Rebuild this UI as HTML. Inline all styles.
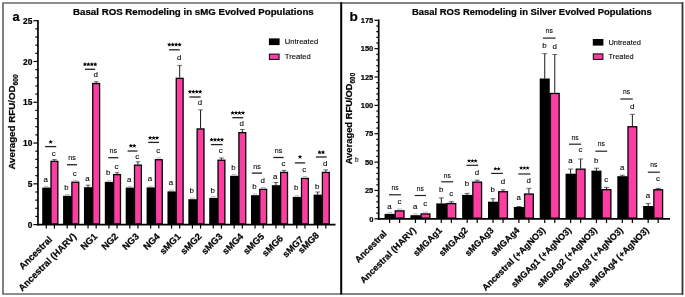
<!DOCTYPE html>
<html><head><meta charset="utf-8"><style>
html,body{margin:0;padding:0;background:#fff;}
body{width:685px;height:297px;overflow:hidden;}
svg{display:block;font-family:"Liberation Sans", sans-serif;will-change:transform;}
text[font-weight="bold"]{stroke:#000;stroke-width:0.22px;}
text[font-weight="normal"]{stroke:#000;stroke-width:0.1px;}
</style></head><body>
<svg width="685" height="297" viewBox="0 0 685 297">
<rect x="0" y="0" width="685" height="297" fill="#fff"/>
<line x1="43.98" y1="186.40" x2="48.57" y2="186.40" stroke="#999" stroke-width="0.7"/>
<line x1="54.43" y1="159.60" x2="54.43" y2="160.70" stroke="#1a1a1a" stroke-width="1.0"/>
<line x1="52.13" y1="159.60" x2="56.73" y2="159.60" stroke="#444" stroke-width="0.8"/>
<rect x="42.20" y="187.60" width="8.15" height="37.00" fill="#000"/>
<rect x="49.85" y="188.10" width="1.30" height="36.50" fill="#000"/>
<rect x="51.00" y="161.35" width="6.85" height="62.60" fill="#fc3ea3" stroke="#000" stroke-width="1.3"/>
<line x1="64.85" y1="194.60" x2="69.45" y2="194.60" stroke="#999" stroke-width="0.7"/>
<line x1="73.00" y1="180.40" x2="77.60" y2="180.40" stroke="#999" stroke-width="0.7"/>
<rect x="63.08" y="195.80" width="8.15" height="28.80" fill="#000"/>
<rect x="70.73" y="196.30" width="1.30" height="28.30" fill="#000"/>
<rect x="71.88" y="182.25" width="6.85" height="41.70" fill="#fc3ea3" stroke="#000" stroke-width="1.3"/>
<line x1="88.03" y1="185.20" x2="88.03" y2="187.20" stroke="#1a1a1a" stroke-width="1.0"/>
<line x1="85.73" y1="185.20" x2="90.33" y2="185.20" stroke="#444" stroke-width="0.8"/>
<line x1="96.18" y1="81.70" x2="96.18" y2="82.90" stroke="#1a1a1a" stroke-width="1.0"/>
<line x1="93.88" y1="81.70" x2="98.48" y2="81.70" stroke="#444" stroke-width="0.8"/>
<rect x="83.95" y="187.20" width="8.15" height="37.40" fill="#000"/>
<rect x="91.60" y="187.70" width="1.30" height="36.90" fill="#000"/>
<rect x="92.75" y="83.55" width="6.85" height="140.40" fill="#fc3ea3" stroke="#000" stroke-width="1.3"/>
<line x1="106.61" y1="180.70" x2="111.21" y2="180.70" stroke="#999" stroke-width="0.7"/>
<line x1="117.06" y1="172.80" x2="117.06" y2="174.00" stroke="#1a1a1a" stroke-width="1.0"/>
<line x1="114.76" y1="172.80" x2="119.36" y2="172.80" stroke="#444" stroke-width="0.8"/>
<rect x="104.83" y="181.90" width="8.15" height="42.70" fill="#000"/>
<rect x="112.48" y="182.40" width="1.30" height="42.20" fill="#000"/>
<rect x="113.63" y="174.65" width="6.85" height="49.30" fill="#fc3ea3" stroke="#000" stroke-width="1.3"/>
<line x1="127.48" y1="186.40" x2="132.08" y2="186.40" stroke="#999" stroke-width="0.7"/>
<line x1="137.93" y1="161.80" x2="137.93" y2="164.50" stroke="#1a1a1a" stroke-width="1.0"/>
<line x1="135.63" y1="161.80" x2="140.23" y2="161.80" stroke="#444" stroke-width="0.8"/>
<rect x="125.71" y="187.60" width="8.15" height="37.00" fill="#000"/>
<rect x="133.36" y="188.10" width="1.30" height="36.50" fill="#000"/>
<rect x="134.51" y="165.15" width="6.85" height="58.80" fill="#fc3ea3" stroke="#000" stroke-width="1.3"/>
<line x1="148.36" y1="186.20" x2="152.96" y2="186.20" stroke="#999" stroke-width="0.7"/>
<line x1="156.51" y1="157.90" x2="161.11" y2="157.90" stroke="#999" stroke-width="0.7"/>
<rect x="146.58" y="187.40" width="8.15" height="37.20" fill="#000"/>
<rect x="154.23" y="187.90" width="1.30" height="36.70" fill="#000"/>
<rect x="155.38" y="159.75" width="6.85" height="64.20" fill="#fc3ea3" stroke="#000" stroke-width="1.3"/>
<line x1="169.24" y1="190.20" x2="173.84" y2="190.20" stroke="#999" stroke-width="0.7"/>
<line x1="179.69" y1="65.40" x2="179.69" y2="77.70" stroke="#1a1a1a" stroke-width="1.0"/>
<line x1="177.39" y1="65.40" x2="181.99" y2="65.40" stroke="#444" stroke-width="0.8"/>
<rect x="167.46" y="191.40" width="8.15" height="33.20" fill="#000"/>
<rect x="175.11" y="191.90" width="1.30" height="32.70" fill="#000"/>
<rect x="176.26" y="78.35" width="6.85" height="145.60" fill="#fc3ea3" stroke="#000" stroke-width="1.3"/>
<line x1="190.11" y1="198.00" x2="194.71" y2="198.00" stroke="#999" stroke-width="0.7"/>
<line x1="200.56" y1="109.90" x2="200.56" y2="128.30" stroke="#1a1a1a" stroke-width="1.0"/>
<line x1="198.26" y1="109.90" x2="202.86" y2="109.90" stroke="#444" stroke-width="0.8"/>
<rect x="188.34" y="199.20" width="8.15" height="25.40" fill="#000"/>
<rect x="195.99" y="199.70" width="1.30" height="24.90" fill="#000"/>
<rect x="197.14" y="128.95" width="6.85" height="95.00" fill="#fc3ea3" stroke="#000" stroke-width="1.3"/>
<line x1="210.99" y1="196.70" x2="215.59" y2="196.70" stroke="#999" stroke-width="0.7"/>
<line x1="221.44" y1="158.00" x2="221.44" y2="159.60" stroke="#1a1a1a" stroke-width="1.0"/>
<line x1="219.14" y1="158.00" x2="223.74" y2="158.00" stroke="#444" stroke-width="0.8"/>
<rect x="209.22" y="197.90" width="8.15" height="26.70" fill="#000"/>
<rect x="216.87" y="198.40" width="1.30" height="26.20" fill="#000"/>
<rect x="218.02" y="160.25" width="6.85" height="63.70" fill="#fc3ea3" stroke="#000" stroke-width="1.3"/>
<line x1="231.87" y1="174.60" x2="236.47" y2="174.60" stroke="#999" stroke-width="0.7"/>
<line x1="242.32" y1="129.50" x2="242.32" y2="132.00" stroke="#1a1a1a" stroke-width="1.0"/>
<line x1="240.02" y1="129.50" x2="244.62" y2="129.50" stroke="#444" stroke-width="0.8"/>
<rect x="230.09" y="175.80" width="8.15" height="48.80" fill="#000"/>
<rect x="237.74" y="176.30" width="1.30" height="48.30" fill="#000"/>
<rect x="238.89" y="132.65" width="6.85" height="91.30" fill="#fc3ea3" stroke="#000" stroke-width="1.3"/>
<line x1="252.75" y1="194.00" x2="257.35" y2="194.00" stroke="#999" stroke-width="0.7"/>
<line x1="260.89" y1="187.50" x2="265.50" y2="187.50" stroke="#999" stroke-width="0.7"/>
<rect x="250.97" y="195.20" width="8.15" height="29.40" fill="#000"/>
<rect x="258.62" y="195.70" width="1.30" height="28.90" fill="#000"/>
<rect x="259.77" y="189.35" width="6.85" height="34.60" fill="#fc3ea3" stroke="#000" stroke-width="1.3"/>
<line x1="275.92" y1="182.50" x2="275.92" y2="185.20" stroke="#1a1a1a" stroke-width="1.0"/>
<line x1="273.62" y1="182.50" x2="278.22" y2="182.50" stroke="#444" stroke-width="0.8"/>
<line x1="284.07" y1="170.40" x2="284.07" y2="171.80" stroke="#1a1a1a" stroke-width="1.0"/>
<line x1="281.77" y1="170.40" x2="286.37" y2="170.40" stroke="#444" stroke-width="0.8"/>
<rect x="271.85" y="185.20" width="8.15" height="39.40" fill="#000"/>
<rect x="279.50" y="185.70" width="1.30" height="38.90" fill="#000"/>
<rect x="280.65" y="172.45" width="6.85" height="51.50" fill="#fc3ea3" stroke="#000" stroke-width="1.3"/>
<line x1="294.50" y1="195.70" x2="299.10" y2="195.70" stroke="#999" stroke-width="0.7"/>
<line x1="302.65" y1="176.60" x2="307.25" y2="176.60" stroke="#999" stroke-width="0.7"/>
<rect x="292.72" y="196.90" width="8.15" height="27.70" fill="#000"/>
<rect x="300.37" y="197.40" width="1.30" height="27.20" fill="#000"/>
<rect x="301.52" y="178.45" width="6.85" height="45.50" fill="#fc3ea3" stroke="#000" stroke-width="1.3"/>
<line x1="317.68" y1="192.00" x2="317.68" y2="194.60" stroke="#1a1a1a" stroke-width="1.0"/>
<line x1="315.38" y1="192.00" x2="319.98" y2="192.00" stroke="#444" stroke-width="0.8"/>
<line x1="325.83" y1="169.90" x2="325.83" y2="171.80" stroke="#1a1a1a" stroke-width="1.0"/>
<line x1="323.53" y1="169.90" x2="328.13" y2="169.90" stroke="#444" stroke-width="0.8"/>
<rect x="313.60" y="194.60" width="8.15" height="30.00" fill="#000"/>
<rect x="321.25" y="195.10" width="1.30" height="29.50" fill="#000"/>
<rect x="322.40" y="172.45" width="6.85" height="51.50" fill="#fc3ea3" stroke="#000" stroke-width="1.3"/>
<line x1="37.95" y1="19.90" x2="37.95" y2="225.45" stroke="#000" stroke-width="1.7"/>
<line x1="37.10" y1="224.60" x2="335.50" y2="224.60" stroke="#000" stroke-width="1.7"/>
<line x1="33.35" y1="224.60" x2="37.95" y2="224.60" stroke="#000" stroke-width="1.2"/>
<text x="32.35" y="227.62" font-size="8.4" font-weight="bold" text-anchor="end" fill="#000" >0</text>
<line x1="35.35" y1="216.44" x2="37.95" y2="216.44" stroke="#000" stroke-width="1.2"/>
<line x1="35.35" y1="208.29" x2="37.95" y2="208.29" stroke="#000" stroke-width="1.2"/>
<line x1="35.35" y1="200.13" x2="37.95" y2="200.13" stroke="#000" stroke-width="1.2"/>
<line x1="35.35" y1="191.98" x2="37.95" y2="191.98" stroke="#000" stroke-width="1.2"/>
<line x1="33.35" y1="183.82" x2="37.95" y2="183.82" stroke="#000" stroke-width="1.2"/>
<text x="32.35" y="186.84" font-size="8.4" font-weight="bold" text-anchor="end" fill="#000" >5</text>
<line x1="35.35" y1="175.66" x2="37.95" y2="175.66" stroke="#000" stroke-width="1.2"/>
<line x1="35.35" y1="167.51" x2="37.95" y2="167.51" stroke="#000" stroke-width="1.2"/>
<line x1="35.35" y1="159.35" x2="37.95" y2="159.35" stroke="#000" stroke-width="1.2"/>
<line x1="35.35" y1="151.20" x2="37.95" y2="151.20" stroke="#000" stroke-width="1.2"/>
<line x1="33.35" y1="143.04" x2="37.95" y2="143.04" stroke="#000" stroke-width="1.2"/>
<text x="32.35" y="146.06" font-size="8.4" font-weight="bold" text-anchor="end" fill="#000" >10</text>
<line x1="35.35" y1="134.88" x2="37.95" y2="134.88" stroke="#000" stroke-width="1.2"/>
<line x1="35.35" y1="126.73" x2="37.95" y2="126.73" stroke="#000" stroke-width="1.2"/>
<line x1="35.35" y1="118.57" x2="37.95" y2="118.57" stroke="#000" stroke-width="1.2"/>
<line x1="35.35" y1="110.42" x2="37.95" y2="110.42" stroke="#000" stroke-width="1.2"/>
<line x1="33.35" y1="102.26" x2="37.95" y2="102.26" stroke="#000" stroke-width="1.2"/>
<text x="32.35" y="105.28" font-size="8.4" font-weight="bold" text-anchor="end" fill="#000" >15</text>
<line x1="35.35" y1="94.10" x2="37.95" y2="94.10" stroke="#000" stroke-width="1.2"/>
<line x1="35.35" y1="85.95" x2="37.95" y2="85.95" stroke="#000" stroke-width="1.2"/>
<line x1="35.35" y1="77.79" x2="37.95" y2="77.79" stroke="#000" stroke-width="1.2"/>
<line x1="35.35" y1="69.64" x2="37.95" y2="69.64" stroke="#000" stroke-width="1.2"/>
<line x1="33.35" y1="61.48" x2="37.95" y2="61.48" stroke="#000" stroke-width="1.2"/>
<text x="32.35" y="64.50" font-size="8.4" font-weight="bold" text-anchor="end" fill="#000" >20</text>
<line x1="35.35" y1="53.32" x2="37.95" y2="53.32" stroke="#000" stroke-width="1.2"/>
<line x1="35.35" y1="45.17" x2="37.95" y2="45.17" stroke="#000" stroke-width="1.2"/>
<line x1="35.35" y1="37.01" x2="37.95" y2="37.01" stroke="#000" stroke-width="1.2"/>
<line x1="35.35" y1="28.86" x2="37.95" y2="28.86" stroke="#000" stroke-width="1.2"/>
<line x1="33.35" y1="20.70" x2="37.95" y2="20.70" stroke="#000" stroke-width="1.2"/>
<text x="32.35" y="23.72" font-size="8.4" font-weight="bold" text-anchor="end" fill="#000" >25</text>
<line x1="46.27" y1="224.60" x2="46.27" y2="228.60" stroke="#000" stroke-width="1.2"/>
<line x1="54.43" y1="224.60" x2="54.43" y2="228.60" stroke="#000" stroke-width="1.2"/>
<line x1="67.15" y1="224.60" x2="67.15" y2="228.60" stroke="#000" stroke-width="1.2"/>
<line x1="75.30" y1="224.60" x2="75.30" y2="228.60" stroke="#000" stroke-width="1.2"/>
<line x1="88.03" y1="224.60" x2="88.03" y2="228.60" stroke="#000" stroke-width="1.2"/>
<line x1="96.18" y1="224.60" x2="96.18" y2="228.60" stroke="#000" stroke-width="1.2"/>
<line x1="108.91" y1="224.60" x2="108.91" y2="228.60" stroke="#000" stroke-width="1.2"/>
<line x1="117.06" y1="224.60" x2="117.06" y2="228.60" stroke="#000" stroke-width="1.2"/>
<line x1="129.78" y1="224.60" x2="129.78" y2="228.60" stroke="#000" stroke-width="1.2"/>
<line x1="137.93" y1="224.60" x2="137.93" y2="228.60" stroke="#000" stroke-width="1.2"/>
<line x1="150.66" y1="224.60" x2="150.66" y2="228.60" stroke="#000" stroke-width="1.2"/>
<line x1="158.81" y1="224.60" x2="158.81" y2="228.60" stroke="#000" stroke-width="1.2"/>
<line x1="171.54" y1="224.60" x2="171.54" y2="228.60" stroke="#000" stroke-width="1.2"/>
<line x1="179.69" y1="224.60" x2="179.69" y2="228.60" stroke="#000" stroke-width="1.2"/>
<line x1="192.41" y1="224.60" x2="192.41" y2="228.60" stroke="#000" stroke-width="1.2"/>
<line x1="200.56" y1="224.60" x2="200.56" y2="228.60" stroke="#000" stroke-width="1.2"/>
<line x1="213.29" y1="224.60" x2="213.29" y2="228.60" stroke="#000" stroke-width="1.2"/>
<line x1="221.44" y1="224.60" x2="221.44" y2="228.60" stroke="#000" stroke-width="1.2"/>
<line x1="234.17" y1="224.60" x2="234.17" y2="228.60" stroke="#000" stroke-width="1.2"/>
<line x1="242.32" y1="224.60" x2="242.32" y2="228.60" stroke="#000" stroke-width="1.2"/>
<line x1="255.05" y1="224.60" x2="255.05" y2="228.60" stroke="#000" stroke-width="1.2"/>
<line x1="263.19" y1="224.60" x2="263.19" y2="228.60" stroke="#000" stroke-width="1.2"/>
<line x1="275.92" y1="224.60" x2="275.92" y2="228.60" stroke="#000" stroke-width="1.2"/>
<line x1="284.07" y1="224.60" x2="284.07" y2="228.60" stroke="#000" stroke-width="1.2"/>
<line x1="296.80" y1="224.60" x2="296.80" y2="228.60" stroke="#000" stroke-width="1.2"/>
<line x1="304.95" y1="224.60" x2="304.95" y2="228.60" stroke="#000" stroke-width="1.2"/>
<line x1="317.68" y1="224.60" x2="317.68" y2="228.60" stroke="#000" stroke-width="1.2"/>
<line x1="325.83" y1="224.60" x2="325.83" y2="228.60" stroke="#000" stroke-width="1.2"/>
<text x="45.67" y="181.70" font-size="7.9" font-weight="normal" text-anchor="middle" fill="#000" >a</text>
<text x="53.83" y="156.20" font-size="7.9" font-weight="normal" text-anchor="middle" fill="#000" >c</text>
<text x="66.55" y="189.70" font-size="7.9" font-weight="normal" text-anchor="middle" fill="#000" >b</text>
<text x="74.70" y="175.70" font-size="7.9" font-weight="normal" text-anchor="middle" fill="#000" >c</text>
<text x="87.43" y="180.90" font-size="7.9" font-weight="normal" text-anchor="middle" fill="#000" >a</text>
<text x="95.58" y="77.20" font-size="7.9" font-weight="normal" text-anchor="middle" fill="#000" >d</text>
<text x="108.31" y="175.30" font-size="7.9" font-weight="normal" text-anchor="middle" fill="#000" >b</text>
<text x="116.46" y="168.70" font-size="7.9" font-weight="normal" text-anchor="middle" fill="#000" >c</text>
<text x="129.18" y="181.90" font-size="7.9" font-weight="normal" text-anchor="middle" fill="#000" >a</text>
<text x="137.33" y="158.90" font-size="7.9" font-weight="normal" text-anchor="middle" fill="#000" >c</text>
<text x="150.06" y="181.20" font-size="7.9" font-weight="normal" text-anchor="middle" fill="#000" >a</text>
<text x="158.21" y="152.90" font-size="7.9" font-weight="normal" text-anchor="middle" fill="#000" >c</text>
<text x="170.94" y="185.30" font-size="7.9" font-weight="normal" text-anchor="middle" fill="#000" >a</text>
<text x="179.09" y="59.80" font-size="7.9" font-weight="normal" text-anchor="middle" fill="#000" >d</text>
<text x="191.81" y="193.30" font-size="7.9" font-weight="normal" text-anchor="middle" fill="#000" >b</text>
<text x="199.96" y="105.00" font-size="7.9" font-weight="normal" text-anchor="middle" fill="#000" >d</text>
<text x="212.69" y="192.50" font-size="7.9" font-weight="normal" text-anchor="middle" fill="#000" >b</text>
<text x="220.84" y="152.90" font-size="7.9" font-weight="normal" text-anchor="middle" fill="#000" >c</text>
<text x="233.57" y="169.60" font-size="7.9" font-weight="normal" text-anchor="middle" fill="#000" >b</text>
<text x="241.72" y="126.00" font-size="7.9" font-weight="normal" text-anchor="middle" fill="#000" >d</text>
<text x="254.45" y="188.50" font-size="7.9" font-weight="normal" text-anchor="middle" fill="#000" >b</text>
<text x="262.59" y="182.60" font-size="7.9" font-weight="normal" text-anchor="middle" fill="#000" >d</text>
<text x="275.32" y="179.00" font-size="7.9" font-weight="normal" text-anchor="middle" fill="#000" >a</text>
<text x="283.47" y="165.60" font-size="7.9" font-weight="normal" text-anchor="middle" fill="#000" >c</text>
<text x="296.20" y="189.90" font-size="7.9" font-weight="normal" text-anchor="middle" fill="#000" >b</text>
<text x="304.35" y="172.30" font-size="7.9" font-weight="normal" text-anchor="middle" fill="#000" >c</text>
<text x="317.08" y="188.50" font-size="7.9" font-weight="normal" text-anchor="middle" fill="#000" >b</text>
<text x="325.23" y="166.40" font-size="7.9" font-weight="normal" text-anchor="middle" fill="#000" >d</text>
<line x1="45.10" y1="146.60" x2="56.20" y2="146.60" stroke="#222" stroke-width="1.3"/>
<circle cx="50.65" cy="142.00" r="1.08" fill="#000"/>
<path d="M50.65,142.00L50.65,140.50M50.65,142.00L52.08,141.54M50.65,142.00L49.22,141.54M50.65,142.00L51.53,143.21M50.65,142.00L49.77,143.21" stroke="#000" stroke-width="0.8" stroke-linecap="round" fill="none"/>
<line x1="67.00" y1="164.70" x2="77.00" y2="164.70" stroke="#222" stroke-width="1.3"/>
<text x="72.00" y="160.05" font-size="7.1" font-weight="normal" text-anchor="middle" fill="#000" >ns</text>
<line x1="85.00" y1="69.30" x2="95.20" y2="69.30" stroke="#222" stroke-width="1.3"/>
<circle cx="84.92" cy="64.40" r="1.08" fill="#000"/>
<circle cx="88.38" cy="64.40" r="1.08" fill="#000"/>
<circle cx="91.82" cy="64.40" r="1.08" fill="#000"/>
<circle cx="95.27" cy="64.40" r="1.08" fill="#000"/>
<path d="M84.92,64.40L84.92,62.90M84.92,64.40L86.35,63.94M84.92,64.40L83.50,63.94M84.92,64.40L85.81,65.61M84.92,64.40L84.04,65.61M88.38,64.40L88.38,62.90M88.38,64.40L89.80,63.94M88.38,64.40L86.95,63.94M88.38,64.40L89.26,65.61M88.38,64.40L87.49,65.61M91.82,64.40L91.82,62.90M91.82,64.40L93.25,63.94M91.82,64.40L90.40,63.94M91.82,64.40L92.71,65.61M91.82,64.40L90.94,65.61M95.27,64.40L95.27,62.90M95.27,64.40L96.70,63.94M95.27,64.40L93.85,63.94M95.27,64.40L96.16,65.61M95.27,64.40L94.39,65.61" stroke="#000" stroke-width="0.8" stroke-linecap="round" fill="none"/>
<line x1="108.30" y1="157.70" x2="118.40" y2="157.70" stroke="#222" stroke-width="1.3"/>
<text x="113.35" y="152.65" font-size="7.1" font-weight="normal" text-anchor="middle" fill="#000" >ns</text>
<line x1="127.60" y1="151.00" x2="137.50" y2="151.00" stroke="#222" stroke-width="1.3"/>
<circle cx="130.83" cy="145.90" r="1.08" fill="#000"/>
<circle cx="134.28" cy="145.90" r="1.08" fill="#000"/>
<path d="M130.83,145.90L130.83,144.40M130.83,145.90L132.25,145.44M130.83,145.90L129.40,145.44M130.83,145.90L131.71,147.11M130.83,145.90L129.94,147.11M134.28,145.90L134.28,144.40M134.28,145.90L135.70,145.44M134.28,145.90L132.85,145.44M134.28,145.90L135.16,147.11M134.28,145.90L133.39,147.11" stroke="#000" stroke-width="0.8" stroke-linecap="round" fill="none"/>
<line x1="148.20" y1="142.40" x2="159.00" y2="142.40" stroke="#222" stroke-width="1.3"/>
<circle cx="150.15" cy="138.00" r="1.08" fill="#000"/>
<circle cx="153.60" cy="138.00" r="1.08" fill="#000"/>
<circle cx="157.05" cy="138.00" r="1.08" fill="#000"/>
<path d="M150.15,138.00L150.15,136.50M150.15,138.00L151.58,137.54M150.15,138.00L148.72,137.54M150.15,138.00L151.03,139.21M150.15,138.00L149.27,139.21M153.60,138.00L153.60,136.50M153.60,138.00L155.03,137.54M153.60,138.00L152.17,137.54M153.60,138.00L154.48,139.21M153.60,138.00L152.72,139.21M157.05,138.00L157.05,136.50M157.05,138.00L158.48,137.54M157.05,138.00L155.62,137.54M157.05,138.00L157.93,139.21M157.05,138.00L156.17,139.21" stroke="#000" stroke-width="0.8" stroke-linecap="round" fill="none"/>
<line x1="169.10" y1="49.80" x2="179.80" y2="49.80" stroke="#222" stroke-width="1.3"/>
<circle cx="169.27" cy="44.70" r="1.08" fill="#000"/>
<circle cx="172.72" cy="44.70" r="1.08" fill="#000"/>
<circle cx="176.17" cy="44.70" r="1.08" fill="#000"/>
<circle cx="179.62" cy="44.70" r="1.08" fill="#000"/>
<path d="M169.27,44.70L169.27,43.20M169.27,44.70L170.70,44.24M169.27,44.70L167.85,44.24M169.27,44.70L170.16,45.91M169.27,44.70L168.39,45.91M172.72,44.70L172.72,43.20M172.72,44.70L174.15,44.24M172.72,44.70L171.30,44.24M172.72,44.70L173.61,45.91M172.72,44.70L171.84,45.91M176.17,44.70L176.17,43.20M176.17,44.70L177.60,44.24M176.17,44.70L174.75,44.24M176.17,44.70L177.06,45.91M176.17,44.70L175.29,45.91M179.62,44.70L179.62,43.20M179.62,44.70L181.05,44.24M179.62,44.70L178.20,44.24M179.62,44.70L180.51,45.91M179.62,44.70L178.74,45.91" stroke="#000" stroke-width="0.8" stroke-linecap="round" fill="none"/>
<line x1="189.40" y1="97.00" x2="200.70" y2="97.00" stroke="#222" stroke-width="1.3"/>
<circle cx="189.88" cy="91.80" r="1.08" fill="#000"/>
<circle cx="193.33" cy="91.80" r="1.08" fill="#000"/>
<circle cx="196.78" cy="91.80" r="1.08" fill="#000"/>
<circle cx="200.23" cy="91.80" r="1.08" fill="#000"/>
<path d="M189.88,91.80L189.88,90.30M189.88,91.80L191.30,91.34M189.88,91.80L188.45,91.34M189.88,91.80L190.76,93.01M189.88,91.80L188.99,93.01M193.33,91.80L193.33,90.30M193.33,91.80L194.75,91.34M193.33,91.80L191.90,91.34M193.33,91.80L194.21,93.01M193.33,91.80L192.44,93.01M196.78,91.80L196.78,90.30M196.78,91.80L198.20,91.34M196.78,91.80L195.35,91.34M196.78,91.80L197.66,93.01M196.78,91.80L195.89,93.01M200.23,91.80L200.23,90.30M200.23,91.80L201.65,91.34M200.23,91.80L198.80,91.34M200.23,91.80L201.11,93.01M200.23,91.80L199.34,93.01" stroke="#000" stroke-width="0.8" stroke-linecap="round" fill="none"/>
<line x1="210.90" y1="144.60" x2="222.60" y2="144.60" stroke="#222" stroke-width="1.3"/>
<circle cx="211.57" cy="139.80" r="1.08" fill="#000"/>
<circle cx="215.03" cy="139.80" r="1.08" fill="#000"/>
<circle cx="218.47" cy="139.80" r="1.08" fill="#000"/>
<circle cx="221.93" cy="139.80" r="1.08" fill="#000"/>
<path d="M211.57,139.80L211.57,138.30M211.57,139.80L213.00,139.34M211.57,139.80L210.15,139.34M211.57,139.80L212.46,141.01M211.57,139.80L210.69,141.01M215.03,139.80L215.03,138.30M215.03,139.80L216.45,139.34M215.03,139.80L213.60,139.34M215.03,139.80L215.91,141.01M215.03,139.80L214.14,141.01M218.47,139.80L218.47,138.30M218.47,139.80L219.90,139.34M218.47,139.80L217.05,139.34M218.47,139.80L219.36,141.01M218.47,139.80L217.59,141.01M221.93,139.80L221.93,138.30M221.93,139.80L223.35,139.34M221.93,139.80L220.50,139.34M221.93,139.80L222.81,141.01M221.93,139.80L221.04,141.01" stroke="#000" stroke-width="0.8" stroke-linecap="round" fill="none"/>
<line x1="232.30" y1="117.70" x2="243.20" y2="117.70" stroke="#222" stroke-width="1.3"/>
<circle cx="232.57" cy="113.00" r="1.08" fill="#000"/>
<circle cx="236.03" cy="113.00" r="1.08" fill="#000"/>
<circle cx="239.47" cy="113.00" r="1.08" fill="#000"/>
<circle cx="242.93" cy="113.00" r="1.08" fill="#000"/>
<path d="M232.57,113.00L232.57,111.50M232.57,113.00L234.00,112.54M232.57,113.00L231.15,112.54M232.57,113.00L233.46,114.21M232.57,113.00L231.69,114.21M236.03,113.00L236.03,111.50M236.03,113.00L237.45,112.54M236.03,113.00L234.60,112.54M236.03,113.00L236.91,114.21M236.03,113.00L235.14,114.21M239.47,113.00L239.47,111.50M239.47,113.00L240.90,112.54M239.47,113.00L238.05,112.54M239.47,113.00L240.36,114.21M239.47,113.00L238.59,114.21M242.93,113.00L242.93,111.50M242.93,113.00L244.35,112.54M242.93,113.00L241.50,112.54M242.93,113.00L243.81,114.21M242.93,113.00L242.04,114.21" stroke="#000" stroke-width="0.8" stroke-linecap="round" fill="none"/>
<line x1="251.90" y1="173.10" x2="262.10" y2="173.10" stroke="#222" stroke-width="1.3"/>
<text x="257.00" y="169.05" font-size="7.1" font-weight="normal" text-anchor="middle" fill="#000" >ns</text>
<line x1="273.30" y1="157.50" x2="283.60" y2="157.50" stroke="#222" stroke-width="1.3"/>
<text x="278.45" y="153.35" font-size="7.1" font-weight="normal" text-anchor="middle" fill="#000" >ns</text>
<line x1="294.90" y1="162.90" x2="305.10" y2="162.90" stroke="#222" stroke-width="1.3"/>
<circle cx="300.00" cy="157.00" r="1.08" fill="#000"/>
<path d="M300.00,157.00L300.00,155.50M300.00,157.00L301.43,156.54M300.00,157.00L298.57,156.54M300.00,157.00L300.88,158.21M300.00,157.00L299.12,158.21" stroke="#000" stroke-width="0.8" stroke-linecap="round" fill="none"/>
<line x1="315.90" y1="157.00" x2="326.70" y2="157.00" stroke="#222" stroke-width="1.3"/>
<circle cx="319.57" cy="152.40" r="1.08" fill="#000"/>
<circle cx="323.02" cy="152.40" r="1.08" fill="#000"/>
<path d="M319.57,152.40L319.57,150.90M319.57,152.40L321.00,151.94M319.57,152.40L318.15,151.94M319.57,152.40L320.46,153.61M319.57,152.40L318.69,153.61M323.02,152.40L323.02,150.90M323.02,152.40L324.45,151.94M323.02,152.40L321.60,151.94M323.02,152.40L323.91,153.61M323.02,152.40L322.14,153.61" stroke="#000" stroke-width="0.8" stroke-linecap="round" fill="none"/>
<text transform="translate(52.75,240.10) rotate(-45)" font-size="9.3" font-weight="bold" text-anchor="end">Ancestral</text>
<text transform="translate(76.93,237.00) rotate(-45)" font-size="9.3" font-weight="bold" text-anchor="end">Ancestral (HARV)</text>
<text transform="translate(97.80,237.00) rotate(-45)" font-size="9.3" font-weight="bold" text-anchor="end">NG1</text>
<text transform="translate(118.68,237.00) rotate(-45)" font-size="9.3" font-weight="bold" text-anchor="end">NG2</text>
<text transform="translate(139.56,237.00) rotate(-45)" font-size="9.3" font-weight="bold" text-anchor="end">NG3</text>
<text transform="translate(160.43,237.00) rotate(-45)" font-size="9.3" font-weight="bold" text-anchor="end">NG4</text>
<text transform="translate(181.31,237.00) rotate(-45)" font-size="9.3" font-weight="bold" text-anchor="end">sMG1</text>
<text transform="translate(202.19,237.00) rotate(-45)" font-size="9.3" font-weight="bold" text-anchor="end">sMG2</text>
<text transform="translate(223.07,237.00) rotate(-45)" font-size="9.3" font-weight="bold" text-anchor="end">sMG3</text>
<text transform="translate(243.94,237.00) rotate(-45)" font-size="9.3" font-weight="bold" text-anchor="end">sMG4</text>
<text transform="translate(264.82,237.00) rotate(-45)" font-size="9.3" font-weight="bold" text-anchor="end">sMG5</text>
<text transform="translate(283.70,239.00) rotate(-45)" font-size="9.3" font-weight="bold" text-anchor="end">sMG6</text>
<text transform="translate(304.27,240.00) rotate(-45)" font-size="9.3" font-weight="bold" text-anchor="end">sMG7</text>
<text transform="translate(319.75,236.00) rotate(-45)" font-size="9.3" font-weight="bold" text-anchor="end">sMG8</text>
<line x1="387.08" y1="212.70" x2="392.08" y2="212.70" stroke="#999" stroke-width="0.7"/>
<line x1="397.12" y1="209.00" x2="402.12" y2="209.00" stroke="#999" stroke-width="0.7"/>
<rect x="384.55" y="213.90" width="10.05" height="4.90" fill="#000"/>
<rect x="394.10" y="214.40" width="1.30" height="4.40" fill="#000"/>
<rect x="395.25" y="210.85" width="8.75" height="7.30" fill="#fc3ea3" stroke="#000" stroke-width="1.3"/>
<line x1="412.94" y1="214.00" x2="417.94" y2="214.00" stroke="#999" stroke-width="0.7"/>
<line x1="422.99" y1="212.10" x2="427.99" y2="212.10" stroke="#999" stroke-width="0.7"/>
<rect x="410.41" y="215.20" width="10.05" height="3.60" fill="#000"/>
<rect x="419.96" y="215.70" width="1.30" height="3.10" fill="#000"/>
<rect x="421.11" y="213.95" width="8.75" height="4.20" fill="#fc3ea3" stroke="#000" stroke-width="1.3"/>
<line x1="441.30" y1="197.90" x2="441.30" y2="203.40" stroke="#1a1a1a" stroke-width="1.0"/>
<line x1="438.80" y1="197.90" x2="443.80" y2="197.90" stroke="#444" stroke-width="0.8"/>
<line x1="451.35" y1="201.70" x2="451.35" y2="202.90" stroke="#1a1a1a" stroke-width="1.0"/>
<line x1="448.85" y1="201.70" x2="453.85" y2="201.70" stroke="#444" stroke-width="0.8"/>
<rect x="436.27" y="203.40" width="10.05" height="15.40" fill="#000"/>
<rect x="445.82" y="203.90" width="1.30" height="14.90" fill="#000"/>
<rect x="446.97" y="203.55" width="8.75" height="14.60" fill="#fc3ea3" stroke="#000" stroke-width="1.3"/>
<line x1="467.16" y1="193.40" x2="467.16" y2="194.90" stroke="#1a1a1a" stroke-width="1.0"/>
<line x1="464.66" y1="193.40" x2="469.66" y2="193.40" stroke="#444" stroke-width="0.8"/>
<line x1="477.20" y1="180.20" x2="477.20" y2="181.50" stroke="#1a1a1a" stroke-width="1.0"/>
<line x1="474.70" y1="180.20" x2="479.70" y2="180.20" stroke="#444" stroke-width="0.8"/>
<rect x="462.13" y="194.90" width="10.05" height="23.90" fill="#000"/>
<rect x="471.68" y="195.40" width="1.30" height="23.40" fill="#000"/>
<rect x="472.83" y="182.15" width="8.75" height="36.00" fill="#fc3ea3" stroke="#000" stroke-width="1.3"/>
<line x1="493.02" y1="198.70" x2="493.02" y2="201.70" stroke="#1a1a1a" stroke-width="1.0"/>
<line x1="490.52" y1="198.70" x2="495.52" y2="198.70" stroke="#444" stroke-width="0.8"/>
<line x1="503.06" y1="189.80" x2="503.06" y2="191.10" stroke="#1a1a1a" stroke-width="1.0"/>
<line x1="500.56" y1="189.80" x2="505.56" y2="189.80" stroke="#444" stroke-width="0.8"/>
<rect x="487.99" y="201.70" width="10.05" height="17.10" fill="#000"/>
<rect x="497.54" y="202.20" width="1.30" height="16.60" fill="#000"/>
<rect x="498.69" y="191.75" width="8.75" height="26.40" fill="#fc3ea3" stroke="#000" stroke-width="1.3"/>
<line x1="518.88" y1="206.50" x2="518.88" y2="207.00" stroke="#1a1a1a" stroke-width="1.0"/>
<line x1="516.38" y1="206.50" x2="521.38" y2="206.50" stroke="#444" stroke-width="0.8"/>
<line x1="528.93" y1="188.30" x2="528.93" y2="193.40" stroke="#1a1a1a" stroke-width="1.0"/>
<line x1="526.43" y1="188.30" x2="531.43" y2="188.30" stroke="#444" stroke-width="0.8"/>
<rect x="513.85" y="207.00" width="10.05" height="11.80" fill="#000"/>
<rect x="523.40" y="207.50" width="1.30" height="11.30" fill="#000"/>
<rect x="524.55" y="194.05" width="8.75" height="24.10" fill="#fc3ea3" stroke="#000" stroke-width="1.3"/>
<line x1="544.74" y1="53.70" x2="544.74" y2="78.50" stroke="#1a1a1a" stroke-width="1.0"/>
<line x1="542.24" y1="53.70" x2="547.24" y2="53.70" stroke="#444" stroke-width="0.8"/>
<line x1="554.78" y1="54.50" x2="554.78" y2="92.80" stroke="#1a1a1a" stroke-width="1.0"/>
<line x1="552.28" y1="54.50" x2="557.28" y2="54.50" stroke="#444" stroke-width="0.8"/>
<rect x="539.71" y="78.50" width="10.05" height="140.30" fill="#000"/>
<rect x="549.26" y="93.30" width="1.30" height="125.50" fill="#000"/>
<rect x="550.41" y="93.45" width="8.75" height="124.70" fill="#fc3ea3" stroke="#000" stroke-width="1.3"/>
<line x1="570.60" y1="169.00" x2="570.60" y2="173.70" stroke="#1a1a1a" stroke-width="1.0"/>
<line x1="568.10" y1="169.00" x2="573.10" y2="169.00" stroke="#444" stroke-width="0.8"/>
<line x1="580.64" y1="159.00" x2="580.64" y2="168.50" stroke="#1a1a1a" stroke-width="1.0"/>
<line x1="578.14" y1="159.00" x2="583.14" y2="159.00" stroke="#444" stroke-width="0.8"/>
<rect x="565.57" y="173.70" width="10.05" height="45.10" fill="#000"/>
<rect x="575.12" y="174.20" width="1.30" height="44.60" fill="#000"/>
<rect x="576.27" y="169.15" width="8.75" height="49.00" fill="#fc3ea3" stroke="#000" stroke-width="1.3"/>
<line x1="596.46" y1="168.20" x2="596.46" y2="170.60" stroke="#1a1a1a" stroke-width="1.0"/>
<line x1="593.96" y1="168.20" x2="598.96" y2="168.20" stroke="#444" stroke-width="0.8"/>
<line x1="606.50" y1="187.40" x2="606.50" y2="189.00" stroke="#1a1a1a" stroke-width="1.0"/>
<line x1="604.00" y1="187.40" x2="609.00" y2="187.40" stroke="#444" stroke-width="0.8"/>
<rect x="591.43" y="170.60" width="10.05" height="48.20" fill="#000"/>
<rect x="600.98" y="189.50" width="1.30" height="29.30" fill="#000"/>
<rect x="602.13" y="189.65" width="8.75" height="28.50" fill="#fc3ea3" stroke="#000" stroke-width="1.3"/>
<line x1="622.32" y1="175.20" x2="622.32" y2="176.20" stroke="#1a1a1a" stroke-width="1.0"/>
<line x1="619.82" y1="175.20" x2="624.82" y2="175.20" stroke="#444" stroke-width="0.8"/>
<line x1="632.37" y1="114.30" x2="632.37" y2="126.10" stroke="#1a1a1a" stroke-width="1.0"/>
<line x1="629.87" y1="114.30" x2="634.87" y2="114.30" stroke="#444" stroke-width="0.8"/>
<rect x="617.29" y="176.20" width="10.05" height="42.60" fill="#000"/>
<rect x="626.84" y="176.70" width="1.30" height="42.10" fill="#000"/>
<rect x="627.99" y="126.75" width="8.75" height="91.40" fill="#fc3ea3" stroke="#000" stroke-width="1.3"/>
<line x1="648.18" y1="203.40" x2="648.18" y2="206.00" stroke="#1a1a1a" stroke-width="1.0"/>
<line x1="645.68" y1="203.40" x2="650.68" y2="203.40" stroke="#444" stroke-width="0.8"/>
<line x1="658.23" y1="188.30" x2="658.23" y2="189.10" stroke="#1a1a1a" stroke-width="1.0"/>
<line x1="655.73" y1="188.30" x2="660.73" y2="188.30" stroke="#444" stroke-width="0.8"/>
<rect x="643.15" y="206.00" width="10.05" height="12.80" fill="#000"/>
<rect x="652.70" y="206.50" width="1.30" height="12.30" fill="#000"/>
<rect x="653.85" y="189.75" width="8.75" height="28.40" fill="#fc3ea3" stroke="#000" stroke-width="1.3"/>
<line x1="378.70" y1="19.50" x2="378.70" y2="219.65" stroke="#000" stroke-width="1.7"/>
<line x1="377.85" y1="218.80" x2="670.00" y2="218.80" stroke="#000" stroke-width="1.7"/>
<line x1="374.50" y1="218.80" x2="378.70" y2="218.80" stroke="#000" stroke-width="1.2"/>
<text x="373.30" y="221.50" font-size="7.5" font-weight="bold" text-anchor="end" fill="#000" >0</text>
<line x1="376.30" y1="213.13" x2="378.70" y2="213.13" stroke="#000" stroke-width="1.2"/>
<line x1="376.30" y1="207.46" x2="378.70" y2="207.46" stroke="#000" stroke-width="1.2"/>
<line x1="376.30" y1="201.79" x2="378.70" y2="201.79" stroke="#000" stroke-width="1.2"/>
<line x1="376.30" y1="196.11" x2="378.70" y2="196.11" stroke="#000" stroke-width="1.2"/>
<line x1="374.50" y1="190.44" x2="378.70" y2="190.44" stroke="#000" stroke-width="1.2"/>
<text x="373.30" y="193.14" font-size="7.5" font-weight="bold" text-anchor="end" fill="#000" >25</text>
<line x1="376.30" y1="184.77" x2="378.70" y2="184.77" stroke="#000" stroke-width="1.2"/>
<line x1="376.30" y1="179.10" x2="378.70" y2="179.10" stroke="#000" stroke-width="1.2"/>
<line x1="376.30" y1="173.43" x2="378.70" y2="173.43" stroke="#000" stroke-width="1.2"/>
<line x1="376.30" y1="167.76" x2="378.70" y2="167.76" stroke="#000" stroke-width="1.2"/>
<line x1="374.50" y1="162.09" x2="378.70" y2="162.09" stroke="#000" stroke-width="1.2"/>
<text x="373.30" y="164.79" font-size="7.5" font-weight="bold" text-anchor="end" fill="#000" >50</text>
<line x1="376.30" y1="156.41" x2="378.70" y2="156.41" stroke="#000" stroke-width="1.2"/>
<line x1="376.30" y1="150.74" x2="378.70" y2="150.74" stroke="#000" stroke-width="1.2"/>
<line x1="376.30" y1="145.07" x2="378.70" y2="145.07" stroke="#000" stroke-width="1.2"/>
<line x1="376.30" y1="139.40" x2="378.70" y2="139.40" stroke="#000" stroke-width="1.2"/>
<line x1="374.50" y1="133.73" x2="378.70" y2="133.73" stroke="#000" stroke-width="1.2"/>
<text x="373.30" y="136.43" font-size="7.5" font-weight="bold" text-anchor="end" fill="#000" >75</text>
<line x1="376.30" y1="128.06" x2="378.70" y2="128.06" stroke="#000" stroke-width="1.2"/>
<line x1="376.30" y1="122.39" x2="378.70" y2="122.39" stroke="#000" stroke-width="1.2"/>
<line x1="376.30" y1="116.71" x2="378.70" y2="116.71" stroke="#000" stroke-width="1.2"/>
<line x1="376.30" y1="111.04" x2="378.70" y2="111.04" stroke="#000" stroke-width="1.2"/>
<line x1="374.50" y1="105.37" x2="378.70" y2="105.37" stroke="#000" stroke-width="1.2"/>
<text x="373.30" y="108.07" font-size="7.5" font-weight="bold" text-anchor="end" fill="#000" >100</text>
<line x1="376.30" y1="99.70" x2="378.70" y2="99.70" stroke="#000" stroke-width="1.2"/>
<line x1="376.30" y1="94.03" x2="378.70" y2="94.03" stroke="#000" stroke-width="1.2"/>
<line x1="376.30" y1="88.36" x2="378.70" y2="88.36" stroke="#000" stroke-width="1.2"/>
<line x1="376.30" y1="82.69" x2="378.70" y2="82.69" stroke="#000" stroke-width="1.2"/>
<line x1="374.50" y1="77.01" x2="378.70" y2="77.01" stroke="#000" stroke-width="1.2"/>
<text x="373.30" y="79.71" font-size="7.5" font-weight="bold" text-anchor="end" fill="#000" >125</text>
<line x1="376.30" y1="71.34" x2="378.70" y2="71.34" stroke="#000" stroke-width="1.2"/>
<line x1="376.30" y1="65.67" x2="378.70" y2="65.67" stroke="#000" stroke-width="1.2"/>
<line x1="376.30" y1="60.00" x2="378.70" y2="60.00" stroke="#000" stroke-width="1.2"/>
<line x1="376.30" y1="54.33" x2="378.70" y2="54.33" stroke="#000" stroke-width="1.2"/>
<line x1="374.50" y1="48.66" x2="378.70" y2="48.66" stroke="#000" stroke-width="1.2"/>
<text x="373.30" y="51.36" font-size="7.5" font-weight="bold" text-anchor="end" fill="#000" >150</text>
<line x1="376.30" y1="42.99" x2="378.70" y2="42.99" stroke="#000" stroke-width="1.2"/>
<line x1="376.30" y1="37.31" x2="378.70" y2="37.31" stroke="#000" stroke-width="1.2"/>
<line x1="376.30" y1="31.64" x2="378.70" y2="31.64" stroke="#000" stroke-width="1.2"/>
<line x1="376.30" y1="25.97" x2="378.70" y2="25.97" stroke="#000" stroke-width="1.2"/>
<line x1="374.50" y1="20.30" x2="378.70" y2="20.30" stroke="#000" stroke-width="1.2"/>
<text x="373.30" y="23.00" font-size="7.5" font-weight="bold" text-anchor="end" fill="#000" >175</text>
<line x1="389.58" y1="218.80" x2="389.58" y2="223.00" stroke="#000" stroke-width="1.2"/>
<line x1="399.62" y1="218.80" x2="399.62" y2="223.00" stroke="#000" stroke-width="1.2"/>
<line x1="415.44" y1="218.80" x2="415.44" y2="223.00" stroke="#000" stroke-width="1.2"/>
<line x1="425.49" y1="218.80" x2="425.49" y2="223.00" stroke="#000" stroke-width="1.2"/>
<line x1="441.30" y1="218.80" x2="441.30" y2="223.00" stroke="#000" stroke-width="1.2"/>
<line x1="451.35" y1="218.80" x2="451.35" y2="223.00" stroke="#000" stroke-width="1.2"/>
<line x1="467.16" y1="218.80" x2="467.16" y2="223.00" stroke="#000" stroke-width="1.2"/>
<line x1="477.20" y1="218.80" x2="477.20" y2="223.00" stroke="#000" stroke-width="1.2"/>
<line x1="493.02" y1="218.80" x2="493.02" y2="223.00" stroke="#000" stroke-width="1.2"/>
<line x1="503.06" y1="218.80" x2="503.06" y2="223.00" stroke="#000" stroke-width="1.2"/>
<line x1="518.88" y1="218.80" x2="518.88" y2="223.00" stroke="#000" stroke-width="1.2"/>
<line x1="528.93" y1="218.80" x2="528.93" y2="223.00" stroke="#000" stroke-width="1.2"/>
<line x1="544.74" y1="218.80" x2="544.74" y2="223.00" stroke="#000" stroke-width="1.2"/>
<line x1="554.78" y1="218.80" x2="554.78" y2="223.00" stroke="#000" stroke-width="1.2"/>
<line x1="570.60" y1="218.80" x2="570.60" y2="223.00" stroke="#000" stroke-width="1.2"/>
<line x1="580.64" y1="218.80" x2="580.64" y2="223.00" stroke="#000" stroke-width="1.2"/>
<line x1="596.46" y1="218.80" x2="596.46" y2="223.00" stroke="#000" stroke-width="1.2"/>
<line x1="606.50" y1="218.80" x2="606.50" y2="223.00" stroke="#000" stroke-width="1.2"/>
<line x1="622.32" y1="218.80" x2="622.32" y2="223.00" stroke="#000" stroke-width="1.2"/>
<line x1="632.37" y1="218.80" x2="632.37" y2="223.00" stroke="#000" stroke-width="1.2"/>
<line x1="648.18" y1="218.80" x2="648.18" y2="223.00" stroke="#000" stroke-width="1.2"/>
<line x1="658.23" y1="218.80" x2="658.23" y2="223.00" stroke="#000" stroke-width="1.2"/>
<text x="389.38" y="208.70" font-size="7.9" font-weight="normal" text-anchor="middle" fill="#000" >a</text>
<text x="399.43" y="203.70" font-size="7.9" font-weight="normal" text-anchor="middle" fill="#000" >c</text>
<text x="415.24" y="209.20" font-size="7.9" font-weight="normal" text-anchor="middle" fill="#000" >a</text>
<text x="425.29" y="206.40" font-size="7.9" font-weight="normal" text-anchor="middle" fill="#000" >c</text>
<text x="441.10" y="192.00" font-size="7.9" font-weight="normal" text-anchor="middle" fill="#000" >b</text>
<text x="451.15" y="195.80" font-size="7.9" font-weight="normal" text-anchor="middle" fill="#000" >c</text>
<text x="466.96" y="186.40" font-size="7.9" font-weight="normal" text-anchor="middle" fill="#000" >b</text>
<text x="477.00" y="174.60" font-size="7.9" font-weight="normal" text-anchor="middle" fill="#000" >d</text>
<text x="492.82" y="192.00" font-size="7.9" font-weight="normal" text-anchor="middle" fill="#000" >b</text>
<text x="502.87" y="184.40" font-size="7.9" font-weight="normal" text-anchor="middle" fill="#000" >d</text>
<text x="518.68" y="200.30" font-size="7.9" font-weight="normal" text-anchor="middle" fill="#000" >a</text>
<text x="528.73" y="183.20" font-size="7.9" font-weight="normal" text-anchor="middle" fill="#000" >d</text>
<text x="544.53" y="47.60" font-size="7.9" font-weight="normal" text-anchor="middle" fill="#000" >b</text>
<text x="554.58" y="49.00" font-size="7.9" font-weight="normal" text-anchor="middle" fill="#000" >d</text>
<text x="570.39" y="163.10" font-size="7.9" font-weight="normal" text-anchor="middle" fill="#000" >a</text>
<text x="580.44" y="152.40" font-size="7.9" font-weight="normal" text-anchor="middle" fill="#000" >c</text>
<text x="596.25" y="162.60" font-size="7.9" font-weight="normal" text-anchor="middle" fill="#000" >b</text>
<text x="606.30" y="181.50" font-size="7.9" font-weight="normal" text-anchor="middle" fill="#000" >c</text>
<text x="622.12" y="169.50" font-size="7.9" font-weight="normal" text-anchor="middle" fill="#000" >a</text>
<text x="632.16" y="108.90" font-size="7.9" font-weight="normal" text-anchor="middle" fill="#000" >d</text>
<text x="647.98" y="197.80" font-size="7.9" font-weight="normal" text-anchor="middle" fill="#000" >a</text>
<text x="658.02" y="181.40" font-size="7.9" font-weight="normal" text-anchor="middle" fill="#000" >c</text>
<line x1="389.00" y1="194.80" x2="401.00" y2="194.80" stroke="#222" stroke-width="1.2"/>
<text x="395.00" y="190.04" font-size="6.7" font-weight="normal" text-anchor="middle" fill="#000" >ns</text>
<line x1="414.70" y1="195.50" x2="426.00" y2="195.50" stroke="#222" stroke-width="1.2"/>
<text x="420.35" y="190.54" font-size="6.7" font-weight="normal" text-anchor="middle" fill="#000" >ns</text>
<line x1="441.30" y1="181.80" x2="453.20" y2="181.80" stroke="#222" stroke-width="1.2"/>
<text x="447.25" y="177.74" font-size="6.7" font-weight="normal" text-anchor="middle" fill="#000" >ns</text>
<line x1="466.40" y1="165.30" x2="478.30" y2="165.30" stroke="#222" stroke-width="1.2"/>
<circle cx="469.10" cy="161.00" r="0.97" fill="#000"/>
<circle cx="472.35" cy="161.00" r="0.97" fill="#000"/>
<circle cx="475.60" cy="161.00" r="0.97" fill="#000"/>
<path d="M469.10,161.00L469.10,159.65M469.10,161.00L470.38,160.58M469.10,161.00L467.82,160.58M469.10,161.00L469.89,162.09M469.10,161.00L468.31,162.09M472.35,161.00L472.35,159.65M472.35,161.00L473.63,160.58M472.35,161.00L471.07,160.58M472.35,161.00L473.14,162.09M472.35,161.00L471.56,162.09M475.60,161.00L475.60,159.65M475.60,161.00L476.88,160.58M475.60,161.00L474.32,160.58M475.60,161.00L476.39,162.09M475.60,161.00L474.81,162.09" stroke="#000" stroke-width="0.75" stroke-linecap="round" fill="none"/>
<line x1="491.10" y1="173.40" x2="502.90" y2="173.40" stroke="#222" stroke-width="1.2"/>
<circle cx="495.38" cy="168.90" r="0.97" fill="#000"/>
<circle cx="498.62" cy="168.90" r="0.97" fill="#000"/>
<path d="M495.38,168.90L495.38,167.55M495.38,168.90L496.66,168.48M495.38,168.90L494.09,168.48M495.38,168.90L496.17,169.99M495.38,168.90L494.58,169.99M498.62,168.90L498.62,167.55M498.62,168.90L499.91,168.48M498.62,168.90L497.34,168.48M498.62,168.90L499.42,169.99M498.62,168.90L497.83,169.99" stroke="#000" stroke-width="0.75" stroke-linecap="round" fill="none"/>
<line x1="518.30" y1="174.00" x2="530.40" y2="174.00" stroke="#222" stroke-width="1.2"/>
<circle cx="521.10" cy="168.10" r="0.97" fill="#000"/>
<circle cx="524.35" cy="168.10" r="0.97" fill="#000"/>
<circle cx="527.60" cy="168.10" r="0.97" fill="#000"/>
<path d="M521.10,168.10L521.10,166.75M521.10,168.10L522.38,167.68M521.10,168.10L519.82,167.68M521.10,168.10L521.89,169.19M521.10,168.10L520.31,169.19M524.35,168.10L524.35,166.75M524.35,168.10L525.63,167.68M524.35,168.10L523.07,167.68M524.35,168.10L525.14,169.19M524.35,168.10L523.56,169.19M527.60,168.10L527.60,166.75M527.60,168.10L528.88,167.68M527.60,168.10L526.32,167.68M527.60,168.10L528.39,169.19M527.60,168.10L526.81,169.19" stroke="#000" stroke-width="0.75" stroke-linecap="round" fill="none"/>
<line x1="542.90" y1="38.10" x2="555.60" y2="38.10" stroke="#222" stroke-width="1.2"/>
<text x="549.25" y="32.84" font-size="6.7" font-weight="normal" text-anchor="middle" fill="#000" >ns</text>
<line x1="569.00" y1="144.20" x2="581.20" y2="144.20" stroke="#222" stroke-width="1.2"/>
<text x="575.10" y="140.04" font-size="6.7" font-weight="normal" text-anchor="middle" fill="#000" >ns</text>
<line x1="595.40" y1="151.20" x2="607.20" y2="151.20" stroke="#222" stroke-width="1.2"/>
<text x="601.30" y="146.34" font-size="6.7" font-weight="normal" text-anchor="middle" fill="#000" >ns</text>
<line x1="620.30" y1="99.00" x2="632.80" y2="99.00" stroke="#222" stroke-width="1.2"/>
<text x="626.55" y="93.94" font-size="6.7" font-weight="normal" text-anchor="middle" fill="#000" >ns</text>
<line x1="647.80" y1="172.20" x2="659.90" y2="172.20" stroke="#222" stroke-width="1.2"/>
<text x="653.85" y="167.44" font-size="6.7" font-weight="normal" text-anchor="middle" fill="#000" >ns</text>
<text transform="translate(387.40,234.20) rotate(-45)" font-size="9.0" font-weight="bold" text-anchor="end">Ancestral</text>
<text transform="translate(416.66,230.90) rotate(-45)" font-size="9.0" font-weight="bold" text-anchor="end">Ancestral (HARV)</text>
<text transform="translate(442.52,230.90) rotate(-45)" font-size="9.0" font-weight="bold" text-anchor="end">sMGAg1</text>
<text transform="translate(468.38,230.90) rotate(-45)" font-size="9.0" font-weight="bold" text-anchor="end">sMGAg2</text>
<text transform="translate(494.24,230.90) rotate(-45)" font-size="9.0" font-weight="bold" text-anchor="end">sMGAg3</text>
<text transform="translate(520.10,230.90) rotate(-45)" font-size="9.0" font-weight="bold" text-anchor="end">sMGAg4</text>
<text transform="translate(545.96,230.90) rotate(-45)" font-size="9.0" font-weight="bold" text-anchor="end">Ancestral (+AgNO3)</text>
<text transform="translate(571.82,230.90) rotate(-45)" font-size="9.0" font-weight="bold" text-anchor="end">sMGAg1 (+AgNO3)</text>
<text transform="translate(597.68,230.90) rotate(-45)" font-size="9.0" font-weight="bold" text-anchor="end">sMGAg2 (+AgNO3)</text>
<text transform="translate(623.54,230.90) rotate(-45)" font-size="9.0" font-weight="bold" text-anchor="end">sMGAg3 (+AgNO3)</text>
<text transform="translate(649.40,230.90) rotate(-45)" font-size="9.0" font-weight="bold" text-anchor="end">sMGAg4 (+AgNO3)</text>
<text x="73.10" y="15.20" font-size="9.7" font-weight="bold" text-anchor="start" fill="#000" >Basal ROS Remodeling in sMG Evolved Populations</text>
<text x="412.00" y="14.60" font-size="9.45" font-weight="bold" text-anchor="start" fill="#000" >Basal ROS Remodeling in Silver Evolved Populations</text>
<text x="12.50" y="20.80" font-size="12.8" font-weight="bold" text-anchor="start" fill="#000" >a</text>
<text x="349.60" y="20.50" font-size="13.6" font-weight="bold" text-anchor="start" fill="#000" >b</text>
<text transform="translate(14.9,169.6) rotate(-90)" font-size="9.75" font-weight="bold">Averaged RFU/OD<tspan font-size="6.7" dy="3.2">600</tspan></text>
<text transform="translate(351.9,164.3) rotate(-90)" font-size="9.4" font-weight="bold">Averaged RFU/OD<tspan font-size="6.3" dy="2.8">600</tspan></text>
<text x="354.90" y="161.60" font-size="6.6" font-weight="normal" text-anchor="start" fill="#000" >b</text>
<rect x="268.90" y="38.40" width="10.70" height="6.70" fill="#000"/>
<rect x="269.40" y="54.10" width="9.70" height="5.30" fill="#fc3ea3" stroke="#000" stroke-width="1.0"/>
<text x="284.80" y="44.30" font-size="7.6" font-weight="normal" text-anchor="start" fill="#000" >Untreated</text>
<text x="284.80" y="59.00" font-size="7.6" font-weight="normal" text-anchor="start" fill="#000" >Treated</text>
<rect x="592.80" y="39.00" width="10.60" height="6.60" fill="#000"/>
<rect x="593.30" y="53.90" width="9.60" height="5.50" fill="#fc3ea3" stroke="#000" stroke-width="1.0"/>
<text x="608.50" y="45.10" font-size="7.4" font-weight="normal" text-anchor="start" fill="#000" >Untreated</text>
<text x="608.50" y="59.30" font-size="7.4" font-weight="normal" text-anchor="start" fill="#000" >Treated</text>
<path d="M341.2,3.0 H3.0 V294.0 H341.2" fill="none" stroke="#6a6a6a" stroke-width="1.7"/>
<path d="M341.2,3.0 H682.5 V294.0 H341.2" fill="none" stroke="#5a5a5a" stroke-width="1.6"/>
<line x1="682.5" y1="2.2" x2="682.5" y2="294.8" stroke="#333" stroke-width="1.4"/>
<line x1="341.2" y1="2.2" x2="341.2" y2="294.5" stroke="#000" stroke-width="2.0"/>
</svg>
</body></html>
